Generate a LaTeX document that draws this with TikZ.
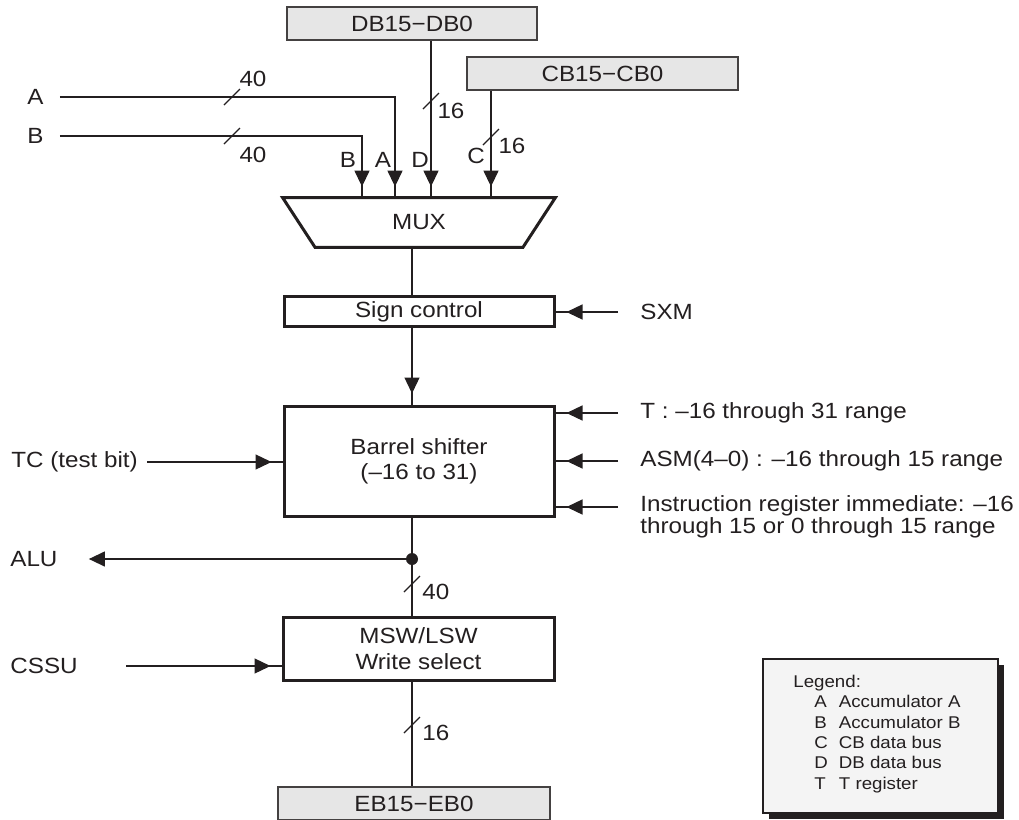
\documentclass[tikz,border=0pt]{standalone}
\usepackage{fontspec}
\setmainfont{Liberation Sans}[FakeStretch=1.1]
\usetikzlibrary{arrows.meta, positioning, decorations.markings, shadows}
\definecolor{busgray}{RGB}{230,230,230}
\definecolor{leggray}{RGB}{244,244,244}
\definecolor{ink}{RGB}{35,31,32}
\tikzset{
  lbl/.style={font=\fontsize{11}{12.5}\selectfont, inner sep=0pt, text=ink},
  wire/.style={draw=ink, line width=0.65pt},
  unit/.style={draw=ink, line width=1.5pt, fill=white, lbl, align=center},
  bus/.style={draw=ink!85, line width=0.9pt, fill=busgray, lbl, minimum height=16.5pt},
  inarrow/.style={wire, postaction={decorate},
    decoration={markings, mark=at position -5.5pt with {\arrow{Triangle[length=8pt,width=7.5pt]}}}},
  outarrow/.style={wire, -{Triangle[length=8pt,width=7.5pt]}},
  junction/.style={circle, fill=ink, inner sep=0pt, minimum size=6pt},
}
% bus width tick
\newcommand{\bustick}[1]{\draw[wire] (#1) ++(-8,8) -- ++(16,-16);}

\begin{document}
\begin{tikzpicture}[x=0.5pt, y=-0.5pt]
  \useasboundingbox (0,0) rectangle (1019,820);
  % Buses
  \node[bus, minimum width=125pt] (dbbus) at (412,23.5) {DB15−DB0};
  \node[bus, minimum width=135.5pt] (cbbus) at (602.5,73.5) {CB15−CB0};
  \node[bus, minimum width=136pt] (ebbus) at (414,803.5) {EB15−EB0};
  % MUX
  \node[lbl, minimum width=136pt, minimum height=24.5pt] (mux) at (419,222.5) {MUX};
  \draw[ink, line width=1.5pt] (mux.north west) -- (mux.north east)
    -- ([xshift=-16.25pt]mux.south east) -- ([xshift=16.25pt]mux.south west) -- cycle;
  % Units
  \node[unit, minimum width=135pt, minimum height=15pt] (sign) at (419,311.5) {Sign control};
  \node[unit, minimum width=135pt, minimum height=55pt] (barrel) at (419,461) {Barrel shifter\\(–16 to 31)};
  \node[unit, minimum width=135.5pt, minimum height=31.5pt, font=\fontsize{11}{13}\selectfont] (msw) at (418.5,648.5) {MSW/LSW\\Write select};
  % Columns
  \coordinate (spine) at (412,0);
  \coordinate (colB) at (362,0);
  \coordinate (colA) at (395,0);
  \coordinate (colD) at (431,0);
  \coordinate (colC) at (491,0);
  % MUX inputs
  \node[lbl, anchor=west] (inA) at (27,97) {A};
  \node[lbl, anchor=west] (inB) at (27,136) {B};
  \draw[inarrow, shorten <=8pt] (inA.east) -| (mux.north -| colA);
  \draw[inarrow, shorten <=8pt] (inB.east) -| (mux.north -| colB);
  \draw[inarrow] (dbbus.south -| colD) -- (mux.north -| colD);
  \draw[inarrow] (cbbus.south -| colC) -- (mux.north -| colC);
  \bustick{232,97}
  \node[lbl] (wA) at (253,79) {40};
  \bustick{232,136}
  \node[lbl] (wB) at (253,155) {40};
  \bustick{431,101}
  \node[lbl] (wD) at (451,111) {16};
  \bustick{491,137}
  \node[lbl] (wC) at (512,146) {16};
  \node[lbl] (selB) at (348,160) {B};
  \node[lbl] (selA) at (383,160) {A};
  \node[lbl] (selD) at (420,160) {D};
  \node[lbl] (selC) at (476,156) {C};
  % Main path
  \draw[wire] (mux.south -| spine) -- (sign.north -| spine);
  \draw[inarrow] (sign.south -| spine) -- (barrel.north -| spine);
  \node[junction] (split) at (412,559) {};
  \draw[wire] (barrel.south -| spine) -- (split);
  \draw[wire] (split) -- (msw.north -| spine);
  \draw[wire] (msw.south -| spine) -- (ebbus.north -| spine);
  \bustick{412,584}
  \node[lbl, anchor=west] (w40) at (422,592) {40};
  \bustick{412,725}
  \node[lbl, anchor=west] (w16) at (422,733) {16};
  % ALU output
  \node[lbl, anchor=west] (alu) at (10,559) {ALU};
  \draw[outarrow, shorten >=15.5pt] (split) -- (alu.east);
  % Controls on the right
  \node[lbl, anchor=west] (sxm) at (640,312) {SXM};
  \draw[inarrow, shorten <=11pt] (sxm.west) -- (sxm.west -| sign.east);
  \node[lbl, anchor=west] (tin) at (640,413) {T : –16 through 31 range};
  \node[lbl, anchor=west] (asmin) at (640,461) {ASM(4–0) : –16 through 15 range};
  \node[lbl, anchor=west, align=left, font=\fontsize{11}{11}\selectfont] (irin) at (640,517)
    {Instruction register immediate: –16\\through 15 or 0 through 15 range};
  \draw[inarrow, shorten <=11pt] (tin.west) -- (tin.west -| barrel.east);
  \draw[inarrow, shorten <=11pt] (asmin.west) -- (asmin.west -| barrel.east);
  \draw[inarrow, shorten <=11pt] ([yshift=5pt]irin.west) -- ([yshift=5pt]irin.west -| barrel.east);
  % Controls on the left
  \node[lbl, anchor=west] (tc) at (11,462) {TC (test bit)};
  \draw[inarrow, shorten <=4.5pt] (tc.east) -- (tc.east -| barrel.west);
  \node[lbl, anchor=west] (cssu) at (10,666) {CSSU};
  \draw[inarrow, shorten <=24pt] (cssu.east) -- (cssu.east -| msw.west);
  % Legend
  \node[draw=ink, line width=0.9pt, fill=leggray, minimum width=117.5pt, minimum height=77pt,
    drop shadow={shadow xshift=3pt, shadow yshift=-3pt, opacity=1, fill=ink}] (legend) at (880.5,736) {};
  \node[anchor=north west, inner sep=0pt, font=\fontsize{8.5}{10.15}\selectfont, text=ink] (legtext) at (793,673)
    {\begin{tabular}{@{\hspace{10.5pt}}l@{\hspace{5.5pt}}l@{}}
      \multicolumn{2}{@{}l@{}}{Legend:}\\
      A & Accumulator A\\
      B & Accumulator B\\
      C & CB data bus\\
      D & DB data bus\\
      T & T register
    \end{tabular}};
\end{tikzpicture}
\end{document}
